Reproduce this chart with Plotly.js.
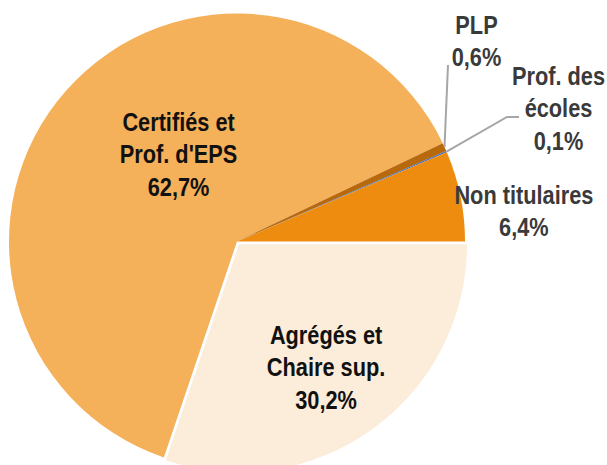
<!DOCTYPE html>
<html><head><meta charset="utf-8">
<script src="https://cdn.plot.ly/plotly-3.0.1.min.js"></script>
<style>
html,body{margin:0;padding:0;overflow:hidden;width:607px;height:465px;background:#fff}
#chart{width:607px;height:480px}
#chart text.annotation-text{transform-box:fill-box;transform-origin:center;transform:scaleX(0.87)}
</style>
</head><body><div id="chart"></div>
<script>
// ---- data ----
const categories = ["Agrégés et Chaire sup.", "Certifiés et Prof. d'EPS", "PLP", "Prof. des écoles", "Non titulaires"];
const labelLines = ["Agrégés et<br>Chaire sup.", "Certifiés et<br>Prof. d'EPS", "PLP", "Prof. des<br>écoles", "Non titulaires"];
const shares = [30.2, 62.7, 0.6, 0.1, 6.4];

// ---- style / layout ----
const sliceColors = ["#FCECDA", "#F5B05A", "#B8690C", "#3F6FC0", "#EE8C10"];
const W = 607, H = 480;
const cx = 237, cy = 241.5, R = 228, pullA = 0.015;
const labelPos = [[326, 367], [178, 154], [476, 41], [558, 109], [524, 211]];
const inside = [true, true, false, false, false];
const font = "'Liberation Sans Narrow','Arial Narrow','Liberation Sans',Arial,sans-serif";

const px = x => x / W, py = y => 1 - y / H;
const box = R * (2 + 2 * pullA) / 2;

const fmt = v => v.toFixed(1).replace('.', ',') + '%';

const annotations = categories.map((c, i) => ({
  xref: 'paper', yref: 'paper', x: px(labelPos[i][0]), y: py(labelPos[i][1]),
  xanchor: 'center', yanchor: 'middle', showarrow: false,
  text: '<b>' + labelLines[i] + '<br>' + fmt(shares[i]) + '</b>',
  font: {family: font, size: 25, color: inside[i] ? '#111111' : '#3A3A3A'}
}));

// edge point of a slice's mid-angle (clockwise from 3 o'clock)
const total = shares.reduce((a, b) => a + b, 0);
function edgePoint(i) {
  let cum = 0; for (let k = 0; k < i; k++) cum += shares[k];
  const ang = (cum + shares[i] / 2) / total * 2 * Math.PI;
  return [cx + R * Math.cos(ang), cy + R * Math.sin(ang)];
}
const ePLP = edgePoint(2), eProf = edgePoint(3);
const lineStyle = {color: '#A6A6A6', width: 2};
const shapes = [
  {type: 'path', xref: 'paper', yref: 'paper', line: lineStyle,
   path: `M ${px(448)},${py(65)} L ${px(ePLP[0])},${py(ePLP[1])}`},
  {type: 'path', xref: 'paper', yref: 'paper', line: lineStyle,
   path: `M ${px(eProf[0])},${py(eProf[1])} L ${px(507)},${py(117)} L ${px(519)},${py(117)}`}
];

const trace = {
  type: 'pie', values: shares, labels: categories, sort: false,
  direction: 'clockwise', rotation: 90, pull: [pullA, 0, 0, 0, 0],
  marker: {colors: sliceColors, line: {width: 0}},
  textinfo: 'none', hoverinfo: 'skip', showlegend: false,
  domain: {x: [px(cx - box), px(cx + box)], y: [py(cy + box), py(cy - box)]}
};

Plotly.newPlot('chart', [trace], {
  width: W, height: H, margin: {l: 0, r: 0, t: 0, b: 0},
  paper_bgcolor: '#fff', showlegend: false,
  annotations, shapes
}, {staticPlot: true});
</script></body></html>
